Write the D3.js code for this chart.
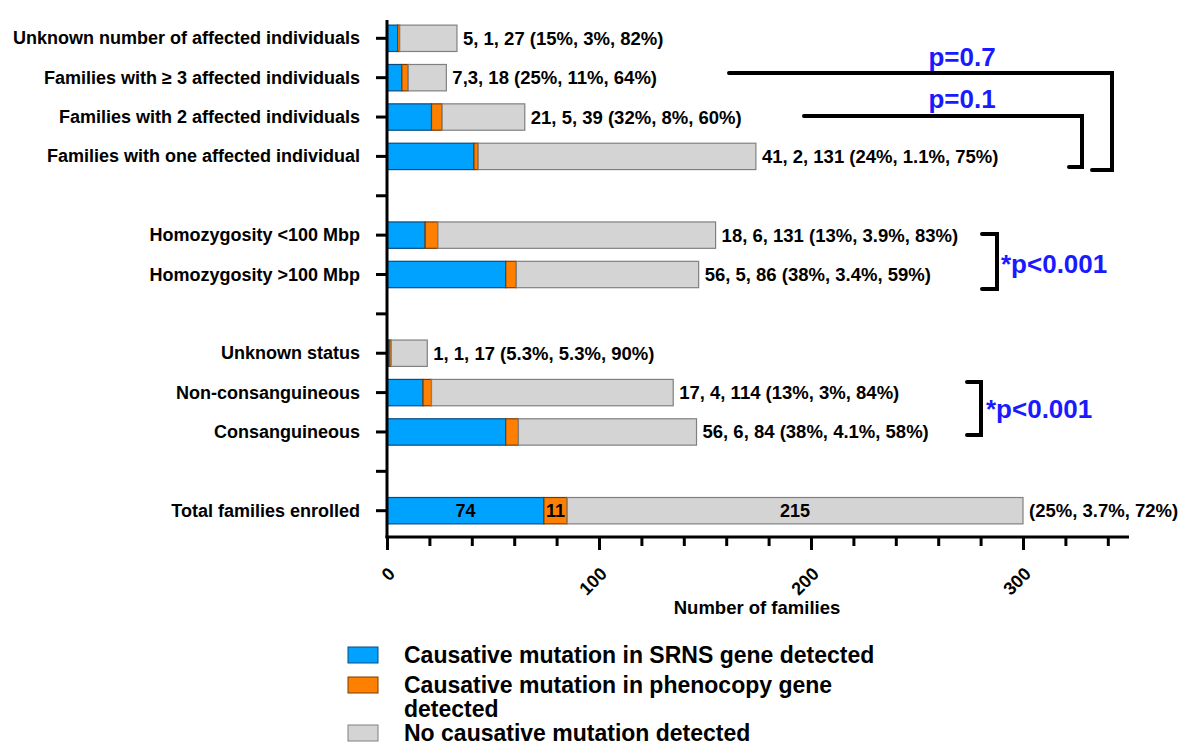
<!DOCTYPE html>
<html>
<head>
<meta charset="utf-8">
<script src="https://cdn.jsdelivr.net/npm/d3@7"></script>
<style>
  body { margin: 0; background: #fff; }
  text { font-family: "Liberation Sans", Arial, sans-serif; font-weight: bold; }
</style>
</head>
<body>
<div id="chart"></div>
<script>
// rows top to bottom, "" = empty gap slot
var categories = [
  "Unknown number of affected individuals",
  "Families with \u2265 3 affected individuals",
  "Families with 2 affected individuals",
  "Families with one affected individual",
  "",
  "Homozygosity <100 Mbp",
  "Homozygosity >100 Mbp",
  "",
  "Unknown status",
  "Non-consanguineous",
  "Consanguineous",
  "",
  "Total families enrolled"
]
var srns      = [5, 7, 21, 41, null, 18, 56, null, 1, 17, 56, null, 74]
var phenocopy = [1, 3, 5, 2, null, 6, 5, null, 1, 4, 6, null, 11]
var noMut     = [27, 18, 39, 131, null, 131, 86, null, 17, 114, 84, null, 215]
var barLabels = [
  "5, 1, 27 (15%, 3%, 82%)",
  "7,3, 18 (25%, 11%, 64%)",
  "21, 5, 39 (32%, 8%, 60%)",
  "41, 2, 131 (24%, 1.1%, 75%)",
  "",
  "18, 6, 131 (13%, 3.9%, 83%)",
  "56, 5, 86 (38%, 3.4%, 59%)",
  "",
  "1, 1, 17 (5.3%, 5.3%, 90%)",
  "17, 4, 114 (13%, 3%, 84%)",
  "56, 6, 84 (38%, 4.1%, 58%)",
  "",
  "(25%, 3.7%, 72%)"
]
var seriesNames = [
  "Causative mutation in SRNS gene detected",
  "Causative mutation in phenocopy gene detected",
  "No causative mutation detected"
]
var colors = ["#00a2ff", "#ff8000", "#d4d4d4"]
var strokes = ["#0a4a80", "#7a3a00", "#808080"]
var xTicks = [0, 100, 200, 300]

var width = 1186, height = 747

var svg = d3.select("#chart").append("svg")
    .attr("width", width)
    .attr("height", height)

var x = d3.scaleLinear().domain([0, 350]).range([387, 1129])
var y = d3.scaleBand()
    .domain(d3.range(categories.length))
    .range([20, 529])
    .paddingInner(0.33)
    .paddingOuter(0.13)

var rows = categories.map(function(c, i) {
  return {i: i, vals: [srns[i], phenocopy[i], noMut[i]]}
}).filter(function(d) { return d.vals[0] != null })

// stacked bars
rows.forEach(function(r) {
  var acc = 0
  r.vals.forEach(function(v, k) {
    svg.append("rect")
      .attr("x", x(acc))
      .attr("y", y(r.i))
      .attr("width", x(acc + v) - x(acc))
      .attr("height", y.bandwidth())
      .attr("fill", colors[k])
      .attr("stroke", strokes[k])
      .attr("stroke-width", 1.2)
    if (r.i == categories.length - 1) {
      svg.append("text")
        .attr("x", (x(acc) + x(acc + v)) / 2)
        .attr("y", y(r.i) + y.bandwidth() / 2 + 6.5)
        .attr("text-anchor", "middle")
        .style("font-size", "18px")
        .text(v)
    }
    acc += v
  })
  svg.append("text")
    .attr("x", x(acc) + 6)
    .attr("y", y(r.i) + y.bandwidth() / 2 + 6.5)
    .style("font-size", "18.5px")
    .text(barLabels[r.i])
})

// y axis
var yAxis = svg.append("g")
  .attr("transform", "translate(387,0)")
yAxis.append("line")
  .attr("x1", 0).attr("x2", 0)
  .attr("y1", 20).attr("y2", 538)
  .attr("stroke", "#000").attr("stroke-width", 3)
yAxis.selectAll("line.tick")
    .data(d3.range(categories.length))
  .enter().append("line")
    .attr("class", "tick")
    .attr("x1", -11).attr("x2", 0)
    .attr("y1", function(d) { return y(d) + y.bandwidth() / 2 })
    .attr("y2", function(d) { return y(d) + y.bandwidth() / 2 })
    .attr("stroke", "#000").attr("stroke-width", 3)
yAxis.selectAll("text")
    .data(categories)
  .enter().append("text")
    .attr("x", -27)
    .attr("y", function(d, i) { return y(i) + y.bandwidth() / 2 + 6 })
    .attr("text-anchor", "end")
    .style("font-size", "18px")
    .text(function(d) { return d })

// x axis
var xAxis = svg.append("g")
  .attr("transform", "translate(0,537)")
  .call(d3.axisBottom(x).tickValues(d3.range(0, 341, 20)).tickSize(9).tickFormat(""))
xAxis.select(".domain").remove()
xAxis.append("line")
  .attr("x1", x(0) - 1.5).attr("x2", x(350))
  .attr("stroke", "#000").attr("stroke-width", 3)
xAxis.selectAll(".tick line").attr("stroke-width", 3)
xAxis.selectAll(".tick").filter(function(d) { return d % 100 == 0 })
  .select("line").attr("y2", 13)

xTicks.forEach(function(t) {
  svg.append("text")
    .attr("transform", "translate(" + (x(t) + 9) + ",575) rotate(-45)")
    .attr("text-anchor", "end")
    .style("font-size", "18px")
    .text(t)
})
svg.append("text")
  .attr("x", 757).attr("y", 614)
  .attr("text-anchor", "middle")
  .style("font-size", "18.5px")
  .text("Number of families")

// significance brackets
var blue = "#1a1aff"
function bracket(pts) {
  svg.append("path")
    .attr("d", d3.line()(pts))
    .attr("fill", "none")
    .attr("stroke", "#000")
    .attr("stroke-width", 4)
    .attr("stroke-linecap", "round")
}
bracket([[729, 73], [1112, 73], [1112, 170], [1092, 170]])
bracket([[804, 116], [1082, 116], [1082, 167], [1069, 167]])
bracket([[982, 234], [997, 234], [997, 289], [982, 289]])
bracket([[967, 382], [981, 382], [981, 435], [967, 435]])

function ptext(t, px, py, anchor) {
  svg.append("text")
    .attr("x", px).attr("y", py)
    .attr("text-anchor", anchor)
    .attr("fill", blue)
    .style("font-size", "26px")
    .text(t)
}
ptext("p=0.7", 962, 66, "middle")
ptext("p=0.1", 962, 108, "middle")
ptext("*p<0.001", 1001, 273, "start")
ptext("*p<0.001", 986, 418, "start")

// legend
var legendRows = [
  {k: 0, y: 655, lines: [seriesNames[0]]},
  {k: 1, y: 685, lines: ["Causative mutation in phenocopy gene", "detected"]},
  {k: 2, y: 733, lines: [seriesNames[2]]}
]
legendRows.forEach(function(l) {
  svg.append("rect")
    .attr("x", 348).attr("y", l.y - 8)
    .attr("width", 30).attr("height", 16)
    .attr("fill", colors[l.k])
    .attr("stroke", strokes[l.k])
  l.lines.forEach(function(s, j) {
    svg.append("text")
      .attr("x", 404).attr("y", l.y + 8 + j * 24)
      .style("font-size", "23px")
      .text(s)
  })
})
</script>
</body>
</html>
